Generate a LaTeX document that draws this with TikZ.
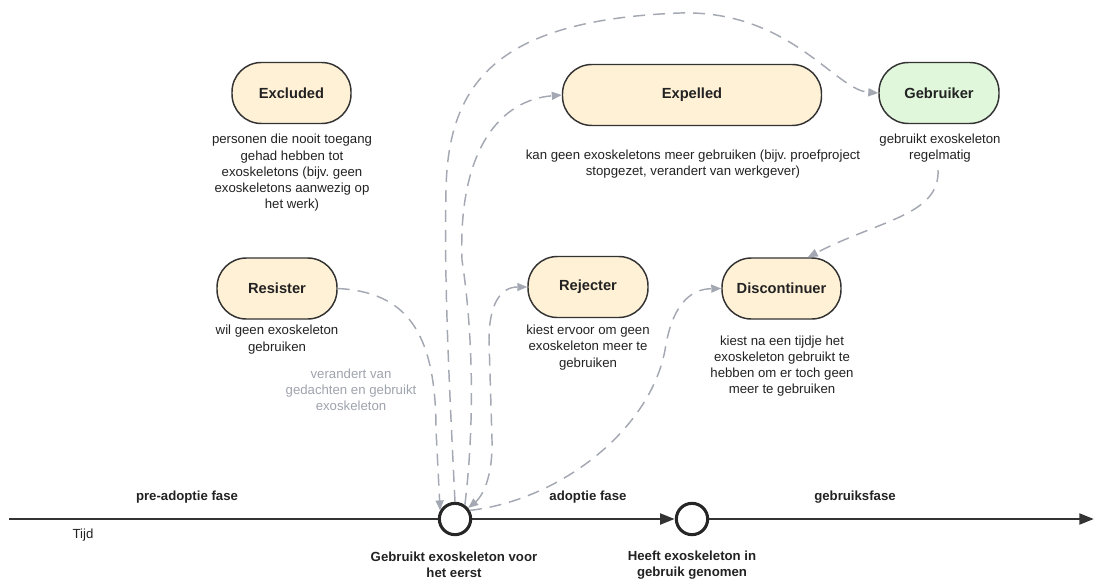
\documentclass[tikz,border=0pt]{standalone}
\usepackage{fontspec}
\setmainfont{Liberation Sans}
\usetikzlibrary{arrows.meta}
\definecolor{cream}{HTML}{FFF1D6}
\definecolor{mint}{HTML}{E1F7DC}
\definecolor{edge}{HTML}{333333}
\definecolor{conngray}{HTML}{A3A8B2}
\definecolor{labelgray}{HTML}{9EA3AC}
\definecolor{txt}{HTML}{222222}
\frenchspacing
\begin{document}
\begin{tikzpicture}[x=0.75pt,y=-0.75pt,
  state/.style={draw=edge,line width=1.1pt,fill=cream,rounded corners=22pt,minimum height=45.75pt,inner sep=0pt,font=\fontsize{11}{13}\selectfont\bfseries,text=txt},
  desc/.style={align=center,font=\fontsize{9.9}{12.2}\selectfont,text=txt,inner sep=0pt},
  phase/.style={align=center,font=\fontsize{9.9}{12.2}\selectfont\bfseries,text=txt,inner sep=0pt},
  conn/.style={draw=conngray,line width=1.1pt,dash pattern=on 9pt off 6pt},
  tip/.style={-{Triangle[length=7.5pt,width=6pt]}},
  tiptwo/.style={{Triangle[length=7.5pt,width=6pt]}-{Triangle[length=7.5pt,width=6pt]}},
  tl/.style={draw=edge,line width=2.2pt},
  tltip/.style={-{Triangle[length=11pt,width=8pt]}},
  ev/.style={circle,draw=black!85,line width=2.3pt,fill=white,minimum size=23.5pt,inner sep=0pt}]
\useasboundingbox (0,0) rectangle (1095,581);

% states
\node[state,minimum width=89.25pt] (excluded) at (291.5,93) {Excluded};
\node[state,minimum width=194.25pt] (expelled) at (692,95) {Expelled};
\node[state,fill=mint,minimum width=90pt] (gebruiker) at (939,93) {Gebruiker};
\node[state,minimum width=90pt] (resister) at (277,288.5) {Resister};
\node[state,minimum width=90pt] (rejecter) at (588,287) {Rejecter};
\node[state,minimum width=89.25pt] (discontinuer) at (781.5,288.5) {Discontinuer};

% descriptions
\node[desc] (dexcl) at (292,173) {personen die nooit toegang\\gehad hebben tot\\exoskeletons (bijv. geen\\exoskeletons aanwezig op\\het werk)};
\node[desc] (dexp) at (693,164) {kan geen exoskeletons meer gebruiken (bijv. proefproject\\stopgezet, verandert van werkgever)};
\node[desc] (dgeb) at (940,148) {gebruikt exoskeleton\\regelmatig};
\node[desc] (dres) at (277,339.5) {wil geen exoskeleton\\gebruiken};
\node[desc,text=labelgray] (lchange) at (351,390) {verandert van\\gedachten en gebruikt\\exoskeleton};
\node[desc] (drej) at (588,347.5) {kiest ervoor om geen\\exoskeleton meer te\\gebruiken};
\node[desc] (ddis) at (782,366) {kiest na een tijdje het\\exoskeleton gebruikt te\\hebben om er toch geen\\meer te gebruiken};

% timeline
\coordinate (tstart) at (9,519);
\coordinate (tend) at (1094,519);
\node[ev] (c1) at (455,519) {};
\node[ev] (c2) at (692,519) {};
\draw[tl] (tstart) -- (c1);
\draw[tl,tltip] (c1) -- (c2);
\draw[tl,tltip] (c2) -- (tend);

\node[phase] (ppre) at (187,497) {pre-adoptie fase};
\node[phase] (pad) at (588,497) {adoptie fase};
\node[phase] (pgeb) at (855,497) {gebruiksfase};
\node[desc] (tijd) at (83,535) {Tijd};
\node[phase] (lc1) at (454,565) {Gebruikt exoskeleton voor\\het eerst};
\node[phase] (lc2) at (692,565) {Heeft exoskeleton in\\gebruik genomen};

% connectors
\draw[conn,tip] (resister.east) .. controls (405,292) and (436,330) .. (436,430) -- (c1.150);
\draw[conn,tip] (c1.north) .. controls (449,380) and (444,280) .. (446,190) .. controls (448,80) and (500,20) .. (680,13) .. controls (790,10) and (835,90) .. (gebruiker.west);
\draw[conn,tip] (c1.55) .. controls (474,430) and (474,340) .. (462,260) .. controls (458,150) and (500,100) .. (expelled.west);
\draw[conn,tiptwo] (c1.40) .. controls (478,500) and (493,485) .. (492,440) -- (489,340) .. controls (489,305) and (500,287) .. (rejecter.west);
\draw[conn,tip] (c1.30) .. controls (560,500) and (650,430) .. (665,350) .. controls (672,305) and (690,289) .. (discontinuer.west);
\coordinate (gstart) at (938,170);
\draw[conn,tip] (gstart) .. controls (940,215) and (880,220) .. (discontinuer.50);
\end{tikzpicture}
\end{document}
